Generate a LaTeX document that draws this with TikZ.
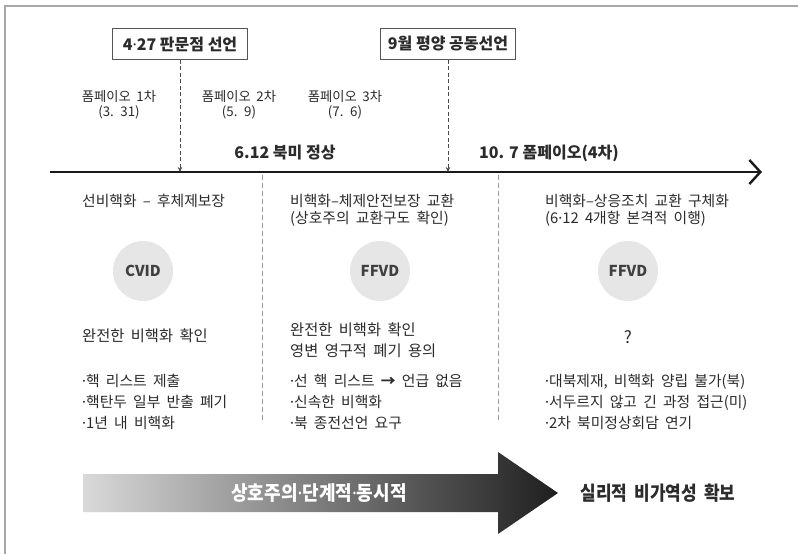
\documentclass[tikz,border=0pt]{standalone}
\usepackage{fontspec}
\setmainfont{Noto Sans CJK KR}
\newfontfamily\latinf{Noto Sans}
\newcommand{\md}{{\latinf ·}}
\newcommand{\widesp}{\spaceskip=0.42em plus 0.1em minus 0.05em\relax}
\usetikzlibrary{arrows.meta,positioning}
\definecolor{txt}{HTML}{2B2B2B}
\definecolor{frame}{HTML}{A8A8A8}
\definecolor{circ}{HTML}{E6E6E6}
\definecolor{divider}{HTML}{9A9A9A}
\tikzset{
  evbox/.style={draw=txt!80, line width=0.9pt, fill=white, minimum width=135pt, minimum height=31pt, inner sep=0pt, font=\fontsize{16}{18}\selectfont\bfseries, text=txt},
  small/.style={font=\fontsize{13.3}{15.5}\selectfont\widesp, text=txt, align=center, inner sep=0pt},
  milestone/.style={font=\fontsize{16}{19}\selectfont\bfseries, text=txt, inner sep=0pt},
  body/.style={font=\fontsize{14.8}{17}\selectfont\widesp, text=txt, anchor=west, inner sep=0pt, align=left},
  bigbody/.style={font=\fontsize{15.3}{21}\selectfont\widesp, text=txt, anchor=west, inner sep=0pt, align=left},
  bullets/.style={font=\fontsize{14.8}{21}\selectfont\widesp, text=txt, anchor=north west, inner sep=0pt, align=left},
  badge/.style={circle, fill=circ, minimum size=60pt, inner sep=0pt, font=\fontsize{15}{17}\selectfont\bfseries, text=txt!90},
  dashlink/.style={dashed, dash pattern=on 4pt off 2.5pt, line width=0.7pt, draw=txt!85, -{Stealth[length=5pt,width=4.5pt]}},
  divline/.style={dashed, dash pattern=on 5pt off 3pt, line width=0.6pt, draw=divider},
}
\begin{document}
\begin{tikzpicture}[x=1pt,y=-1pt]
\useasboundingbox (0,0) rectangle (798,554);
\fill[white] (0,0) rectangle (798,554);
% frame
\draw[frame, line width=1.6pt] (5,554) -- (5,6) -- (798,6);

% event boxes
\node[evbox] (b1) at (180,44) {4\md27 판문점 선언};
\node[evbox] (b2) at (448,44) {9월 평양 공동선언};

% pompeo labels
\node[small] (p1) at (119,105) {폼페이오 1차\\(3. 31)};
\node[small] (p2) at (239,105) {폼페이오 2차\\(5. 9)};
\node[small] (p3) at (345,105) {폼페이오 3차\\(7. 6)};

% milestones
\node[milestone] (m1) at (285,153) {6.12 북미 정상};
\node[milestone] (m2) at (549,153) {10. 7 폼페이오(4차)};

% timeline
\coordinate (tl0) at (50,172);
\coordinate (tl1) at (762,172);
\coordinate (t1) at (180,172);
\coordinate (t2) at (448,172);
\draw[line width=2.8pt, draw=black!90, -{Straight Barb[length=11pt,width=24pt,line width=2.4pt]}] (tl0) -- (tl1);
\draw[dashlink] (b1.south) -- (t1);
\draw[dashlink] (b2.south) -- (t2);

% dividers
\coordinate (d1a) at (262,175); \coordinate (d1b) at (262,420);
\coordinate (d2a) at (498,175); \coordinate (d2b) at (498,420);
\draw[divline] (d1a) -- (d1b);
\draw[divline] (d2a) -- (d2b);

% column 1
\node[body] (h1) at (82,201) {선비핵화 – 후체제보장};
\node[badge] (c1) at (143,271) {CVID};
\node[bigbody] (v1) at (82,336) {완전한 비핵화 확인};
\node[bullets] (l1) at (82,374) {\md 핵 리스트 제출\\\md 핵탄두 일부 반출 폐기\\\md 1년 내 비핵화};

% column 2
\node[body] (h2) at (290,210) {비핵화–체제안전보장 교환\\(상호주의 교환구도 확인)};
\node[badge] (c2) at (380,271) {FFVD};
\node[bigbody] (v2) at (290,340) {완전한 비핵화 확인\\영변 영구적 폐기 용의};
\node[bullets] (l2) at (290,374) {\md 선 핵 리스트 {\bfseries →} 언급 없음\\\md 신속한 비핵화\\\md 북 종전선언 요구};

% column 3
\node[body] (h3) at (545,210) {비핵화–상응조치 교환 구체화\\(6\md12 4개항 본격적 이행)};
\node[badge] (c3) at (628,271) {FFVD};
\node[font=\fontsize{17}{19}\selectfont, text=txt, inner sep=0pt] (q3) at (628,337) {?};
\node[bullets] (l3) at (545,374) {\md 대북제재, 비핵화 양립 불가(북)\\\md 서두르지 않고 긴 과정 접근(미)\\\md 2차 북미정상회담 연기};

% bottom gradient arrow
\shade[left color=black!15, right color=black!88]
  (83,474) -- (498,474) -- (498,452) -- (558,493) -- (498,534) -- (498,512) -- (83,512) -- cycle;
\node[font=\fontsize{20}{22}\selectfont\bfseries, text=white, inner sep=0pt] (flow) at (319,493) {\scalebox{0.9}[1]{상호주의\md 단계적\md 동시적}};
\node[font=\fontsize{19.5}{22}\selectfont\bfseries, text=txt, inner sep=0pt] (goal) at (658,493) {\scalebox{0.87}[1]{\widesp 실리적 비가역성 확보}};
\end{tikzpicture}
\end{document}
